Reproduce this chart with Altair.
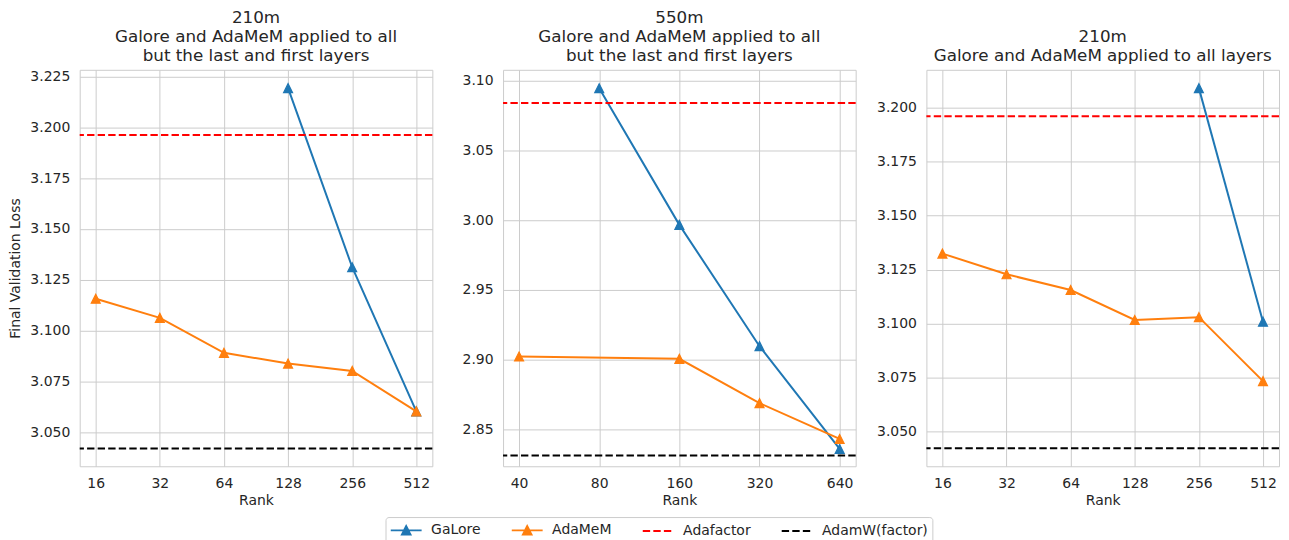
import altair as alt
import pandas as pd

FONT = "DejaVu Sans"
TXT = "#262626"
GRID = "#cccccc"
BLUE = "#1f77b4"
ORANGE = "#ff7f0e"
RED = "#ff0000"
BLACK = "#000000"

SERIES = ["GaLore", "AdaMeM", "Adafactor", "AdamW(factor)"]
SERIES_COLORS = [BLUE, ORANGE, RED, BLACK]

# ---- panel 1: 210m, all but first/last layers
p1_title = ["210m", "Galore and AdaMeM applied to all", "but the last and first layers"]
p1_ranks = [16, 32, 64, 128, 256, 512]
p1_galore_ranks = [128, 256, 512]
p1_galore = [3.2193, 3.1312, 3.0603]
p1_adamem_ranks = [16, 32, 64, 128, 256, 512]
p1_adamem = [3.1157, 3.1063, 3.0891, 3.0838, 3.0802, 3.0603]
p1_adafactor = 3.1962
p1_adamw = 3.0420
p1_yticks = [3.050, 3.075, 3.100, 3.125, 3.150, 3.175, 3.200, 3.225]
p1_ydom = [3.0333, 3.2283]

# ---- panel 2: 550m, all but first/last layers
p2_title = ["550m", "Galore and AdaMeM applied to all", "but the last and first layers"]
p2_ranks = [40, 80, 160, 320, 640]
p2_galore_ranks = [80, 160, 320, 640]
p2_galore = [3.0947, 2.9966, 2.9095, 2.8357]
p2_adamem_ranks = [40, 160, 320, 640]
p2_adamem = [2.9021, 2.9004, 2.8686, 2.8429]
p2_adafactor = 3.0840
p2_adamw = 2.8311
p2_yticks = [2.85, 2.90, 2.95, 3.00, 3.05, 3.10]
p2_ydom = [2.8233, 3.1079]

# ---- panel 3: 210m, all layers
p3_title = ["210m", "Galore and AdaMeM applied to all layers"]
p3_ranks = [16, 32, 64, 128, 256, 512]
p3_galore_ranks = [256, 512]
p3_galore = [3.2092, 3.1008]
p3_adamem_ranks = [16, 32, 64, 128, 256, 512]
p3_adamem = [3.1324, 3.1228, 3.1155, 3.1016, 3.1029, 3.0732]
p3_adafactor = 3.1962
p3_adamw = 3.0421
p3_yticks = [3.050, 3.075, 3.100, 3.125, 3.150, 3.175, 3.200]
p3_ydom = [3.0337, 3.2177]

TRI = "M0,-1L-1,1L1,1Z"
LEG_TRI = "M-2,0H2M0,-0.55L-0.55,0.55L0.55,0.55Z"
LEG_DASH = "M-2,0H2"

PLOT_W = 354
PLOT_H = 398


def log_domain(ranks, pad):
    return [ranks[0] / 2 ** pad, ranks[-1] * 2 ** pad]


def panel(title, ranks, g_ranks, g_vals, a_ranks, a_vals, adafactor, adamw, ydom, yticks, yfmt, ytitle, pad, legend):
    x = alt.X("rank:Q",
              scale=alt.Scale(type="log", base=2, domain=log_domain(ranks, pad), nice=False, zero=False),
              axis=alt.Axis(values=ranks, format="d", title="Rank"))
    yaxis = alt.Axis(values=yticks, format=yfmt, title=ytitle) if ytitle else alt.Axis(values=yticks, format=yfmt, title=None)
    y = alt.Y("loss:Q", scale=alt.Scale(domain=ydom, nice=False, zero=False), axis=yaxis)

    gal = pd.DataFrame({"rank": g_ranks, "loss": g_vals})
    ada = pd.DataFrame({"rank": a_ranks, "loss": a_vals})
    layers = []
    for df, col in ((gal, BLUE), (ada, ORANGE)):
        layers.append(alt.Chart(df).mark_line(color=col, strokeWidth=2).encode(x=x, y=y))
        layers.append(alt.Chart(df).mark_point(shape=TRI, filled=True, size=81, color=col, stroke=col,
                                               strokeWidth=1.2, opacity=1).encode(x=x, y=y))
    for val, col in ((adafactor, RED), (adamw, BLACK)):
        layers.append(alt.Chart(pd.DataFrame({"loss": [val]})).mark_rule(
            color=col, strokeDash=[7.4, 3.2], strokeWidth=2).encode(y=y))
    if legend:
        leg = alt.Chart(pd.DataFrame({"series": SERIES})).transform_filter("false").mark_point(
            filled=True, strokeWidth=2, opacity=1).encode(
            color=alt.Color("series:N", scale=alt.Scale(domain=SERIES, range=SERIES_COLORS),
                            legend=alt.Legend(title=None, orient="none", legendX=307, legendY=449,
                                              direction="horizontal", columns=4)),
            stroke=alt.Stroke("series:N", scale=alt.Scale(domain=SERIES, range=SERIES_COLORS), legend=alt.Legend(title=None)),
            shape=alt.Shape("series:N", scale=alt.Scale(domain=SERIES, range=[LEG_TRI, LEG_TRI, LEG_DASH, LEG_DASH]), legend=alt.Legend(title=None)),
            strokeDash=alt.StrokeDash("series:N", scale=alt.Scale(domain=SERIES, range=[[1, 0], [1, 0], [7.4, 3.2], [7.4, 3.2]]), legend=alt.Legend(title=None)),
        )
        layers.append(leg)
    return alt.layer(*layers).properties(width=PLOT_W, height=PLOT_H, title=alt.Title(title))


c1 = panel(p1_title, p1_ranks, p1_galore_ranks, p1_galore, p1_adamem_ranks, p1_adamem, p1_adafactor, p1_adamw,
           p1_ydom, p1_yticks, ".3f", "Final Validation Loss", 0.25, True)
c2 = panel(p2_title, p2_ranks, p2_galore_ranks, p2_galore, p2_adamem_ranks, p2_adamem, p2_adafactor, p2_adamw,
           p2_ydom, p2_yticks, ".2f", None, 0.2, False)
c3 = panel(p3_title, p3_ranks, p3_galore_ranks, p3_galore, p3_adamem_ranks, p3_adamem, p3_adafactor, p3_adamw,
           p3_ydom, p3_yticks, ".3f", None, 0.25, False)

chart = alt.hconcat(c1, c2, c3, spacing=71, bounds="flush").properties(
    padding={"left": 0, "top": 0, "right": 0, "bottom": 0}
).configure(font=FONT).configure_view(stroke=GRID, strokeWidth=1).configure_axis(
    grid=True, gridColor=GRID, gridWidth=1, domain=False, ticks=False,
    labelFont=FONT, labelFontSize=14, labelColor=TXT, labelPadding=10,
    titleFont=FONT, titleFontSize=14, titleColor=TXT, titleFontWeight="normal",
).configure_axisY(titlePadding=7).configure_axisX(titlePadding=3).configure_title(
    font=FONT, fontSize=16.8, fontWeight="normal", color=TXT, lineHeight=19.2, offset=5, anchor="middle", baseline="bottom"
).configure_legend(
    labelFont=FONT, labelFontSize=14, labelColor=TXT, padding=4, strokeColor=GRID, cornerRadius=3,
    fillColor="white", symbolSize=240, symbolOffset=7.75, labelOffset=16, columnPadding=26.5,
    symbolStrokeWidth=2
)

chart.save("out.html", embed_options={"renderer": "svg", "actions": False})
